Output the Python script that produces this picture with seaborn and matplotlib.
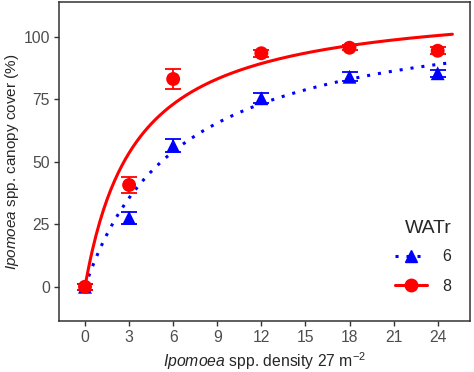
import numpy as np
import pandas as pd
import matplotlib.pyplot as plt
import seaborn as sns
from matplotlib.lines import Line2D

# observed means and standard errors
density = [0, 3, 6, 12, 18, 24]
cover_w6 = [0, 27.6, 56.4, 75.4, 84.0, 85.4]
se_w6 = [1.2, 2.3, 2.6, 2.0, 1.8, 1.5]
cover_w8 = [0, 40.7, 83.1, 93.4, 95.6, 94.4]
se_w8 = [1.2, 3.1, 3.9, 1.3, 1.0, 1.4]

# rectangular hyperbola y = a*x/(b+x), coefficients
fit_w6 = [113.3, 6.57]
fit_w8 = [114.9, 3.44]

sns.set_style('white')
plt.rcParams['font.family'] = ['Liberation Sans', 'DejaVu Sans']
plt.rcParams['mathtext.fontset'] = 'custom'
plt.rcParams['mathtext.rm'] = 'Liberation Sans'
plt.rcParams['mathtext.it'] = 'Liberation Sans:italic'

pts = pd.DataFrame({
    'density': density * 2,
    'cover': cover_w6 + cover_w8,
    'se': se_w6 + se_w8,
    'WATr': ['6'] * 6 + ['8'] * 6,
})

xs = np.linspace(0, 25, 200)
curves = pd.DataFrame({
    'density': np.concatenate([xs, xs]),
    'cover': np.concatenate([fit_w6[0] * xs / (fit_w6[1] + xs),
                             fit_w8[0] * xs / (fit_w8[1] + xs)]),
    'WATr': ['6'] * len(xs) + ['8'] * len(xs),
})

fig = plt.figure(figsize=(4.74, 3.72), dpi=100)
ax = fig.add_axes([59 / 474, 1 - 321 / 372, 411 / 474, 319 / 372])

styles = {'6': dict(color='#0000FF', marker='^', ls=(0, (1.0, 2.6)), lw=2.2, ms=10),
          '8': dict(color='#FF0000', marker='o', ls='-', lw=2.2, ms=10)}

for grp in ['6', '8']:
    st = styles[grp]
    c = curves[curves.WATr == grp]
    sns.lineplot(data=c, x='density', y='cover', color=st['color'], lw=st['lw'],
                 ax=ax, zorder=2)
    ax.lines[-1].set_linestyle(st['ls'])
    ax.lines[-1].set_dash_capstyle('butt')
    p = pts[pts.WATr == grp]
    ax.errorbar(p.density, p.cover, yerr=p.se, fmt='none', ecolor=st['color'],
                elinewidth=1.3, capsize=5.5, capthick=1.3, zorder=3)
    sns.scatterplot(data=p, x='density', y='cover', color=st['color'],
                    marker=st['marker'], s=st['ms'] ** 2, edgecolor='none',
                    ax=ax, zorder=4)

ax.set_xlim(-1.77, 26.2)
ax.set_ylim(-13.7, 113.9)
ax.set_xticks(range(0, 25, 3))
ax.set_yticks([0, 25, 50, 75, 100])
ax.tick_params(axis='both', labelsize=11.3, labelcolor='#4D4D4D', length=3.5,
               width=1, color='#333333', direction='out', bottom=True, left=True,
               pad=3)
for s in ax.spines.values():
    s.set_color('#333333')
    s.set_linewidth(1.1)

ax.set_xlabel(r'$\it{Ipomoea}$ spp. density 27 m$^{-2}$', fontsize=11.3)
ax.set_ylabel(r'$\it{Ipomoea}$ spp. canopy cover (%)', fontsize=11, labelpad=2)

handles = [Line2D([], [], color=styles[g]['color'], marker=styles[g]['marker'],
                  ls=styles[g]['ls'], lw=styles[g]['lw'], ms=styles[g]['ms'] * 0.9,
                  dash_capstyle='butt')
           for g in ['6', '8']]
leg = ax.legend(handles, ['6', '8'], title='WATr', loc='lower right',
                bbox_to_anchor=(0.99, 0.04), frameon=False, fontsize=11.5,
                title_fontsize=14, handlelength=2.0, labelspacing=0.9,
                handletextpad=1.0)
leg._legend_box.align = 'right'
leg._legend_box.sep = 9

fig.savefig('out.png', dpi=100, facecolor='white')
